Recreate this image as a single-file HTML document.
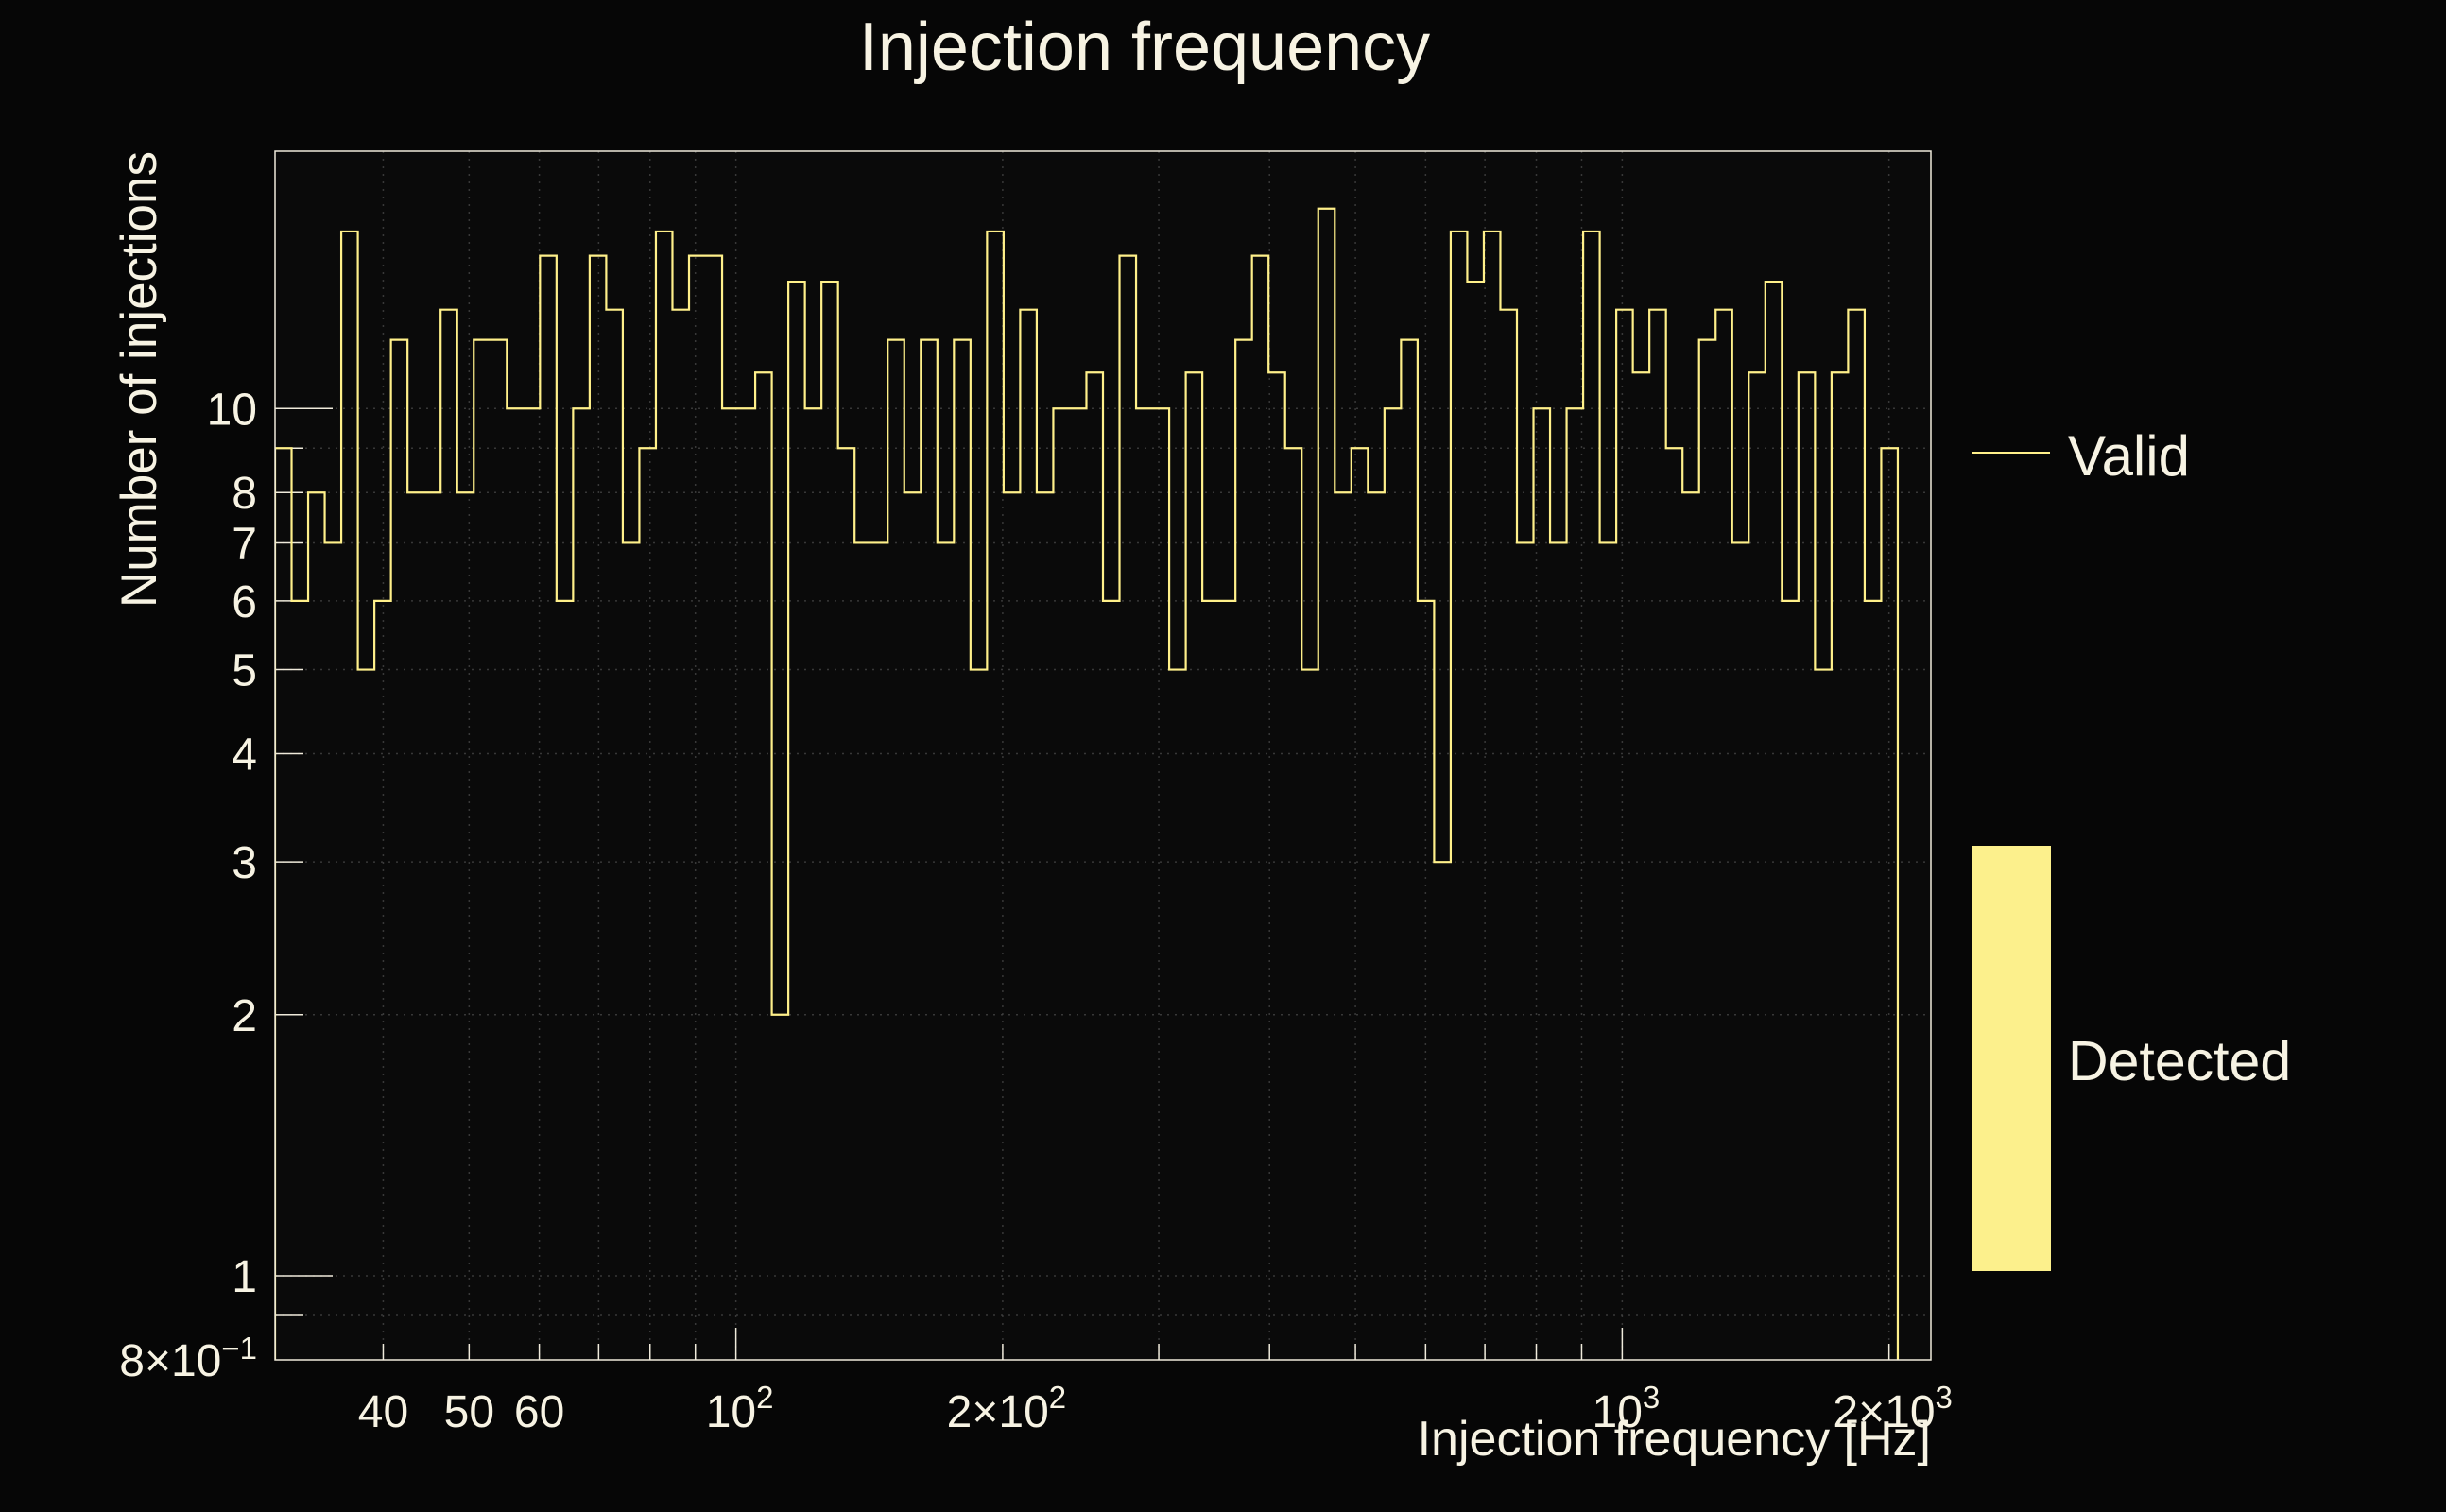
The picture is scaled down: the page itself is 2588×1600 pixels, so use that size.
<!DOCTYPE html>
<html><head><meta charset="utf-8"><style>
html,body{margin:0;padding:0;background:#060606;}
svg{display:block;}
text{font-family:"Liberation Sans",sans-serif;fill:#f7f3e3;}
</style></head><body>
<svg id="chart" width="2588" height="1600" viewBox="0 0 2588 1600" xmlns="http://www.w3.org/2000/svg">
<rect x="0" y="0" width="2588" height="1600" fill="#060606"/>
<rect x="291" y="160" width="1752" height="1279" fill="#0a0a0a"/>
<g id="grid"></g>
<g id="ticks"></g>
<g id="hist"></g>
<rect x="291" y="160" width="1752" height="1279" fill="none" stroke="#efeadb" stroke-width="1.5"/>
<text x="1211" y="74" font-size="72" text-anchor="middle">Injection frequency</text>
<text transform="translate(165,160) rotate(-90)" font-size="53" text-anchor="end">Number of injections</text>
<text x="2043" y="1540" font-size="52" text-anchor="end">Injection frequency [Hz]</text>
<g>
<line x1="2087" y1="479" x2="2169" y2="479" stroke="#fff08a" stroke-width="2"/>
<text x="2188" y="503" font-size="60">Valid</text>
<rect x="2086" y="895" width="84" height="450" fill="#fcf08c"/>
<text x="2188" y="1143" font-size="59">Detected</text>
</g>
</svg>
<script>
const counts = [9,6,8,7,16,5,6,12,8,8,13,8,12,12,10,10,15,6,10,15,
13,7,9,16,13,15,15,10,10,11,2,14,10,14,9,7,7,12,8,12,
7,12,5,16,8,13,8,10,10,11,6,15,10,10,5,11,6,6,12,15,
11,9,5,17,8,9,8,10,12,6,3,16,14,16,13,7,10,7,10,16,
7,13,11,13,9,8,12,13,7,11,14,6,11,5,11,13,6,9,0,0];
const xRange = [30.2, 2230];
const yRange = [0.8, 19.8];
const yMinorTicks = [0.9,2,3,4,5,6,7,8,9];
const yMajorTicks = [1,10];
const yTickLabels = [["10",10],["8",8],["7",7],["6",6],["5",5],["4",4],["3",3],["2",2],["1",1]];
const xMinorTicks = [40,50,60,70,80,90,200,300,400,500,600,700,800,900,2000];
const xMajorTicks = [100,1000];
const xPlainLabels = [["40",40],["50",50],["60",60]];
const xPowLabels = [["","2",100],["2\u00d7","2",200],["","3",1000],["2\u00d7","3",2000]];

const NS="http://www.w3.org/2000/svg";
const L=291,R=2043,T=160,B=1439;
function xs(v){return L+(Math.log10(v)-Math.log10(xRange[0]))/(Math.log10(xRange[1])-Math.log10(xRange[0]))*(R-L);}
function ys(v){return B-(Math.log10(v)-Math.log10(yRange[0]))/(Math.log10(yRange[1])-Math.log10(yRange[0]))*(B-T);}
function mk(tag,attrs,parent){const e=document.createElementNS(NS,tag);for(const k in attrs)e.setAttribute(k,attrs[k]);parent.appendChild(e);return e;}
const grid=document.getElementById('grid'),ticks=document.getElementById('ticks'),hist=document.getElementById('hist'),svg=document.getElementById('chart');

yMinorTicks.concat(yMajorTicks).forEach(v=>{
  const y=ys(v);
  const g=mk('line',{x1:L,x2:R,y1:y,y2:y,stroke:'#444',"stroke-width":1.5,"stroke-dasharray":"2 6","stroke-opacity":0.8},grid);
  
  
  const len=yMajorTicks.includes(v)?61:30;
  const t=mk('line',{x1:L,x2:L+len,y1:y,y2:y,stroke:'#efeadb',"stroke-width":1.5},ticks);
  
  
});
xMinorTicks.concat(xMajorTicks).forEach(v=>{
  const x=xs(v);
  const g=mk('line',{x1:x,x2:x,y1:T,y2:B,stroke:'#444',"stroke-width":1.5,"stroke-dasharray":"2 6","stroke-opacity":0.8},grid);
  
  
  const len=xMajorTicks.includes(v)?34:17;
  const t=mk('line',{x1:x,x2:x,y1:B,y2:B-len,stroke:'#efeadb',"stroke-width":1.5},ticks);
  
  
});
yTickLabels.forEach(([s,v])=>{
  const t=mk('text',{x:272,y:ys(v)+17,"font-size":48,"text-anchor":"end"},svg);
  t.textContent=s;
  
  
});
{
  const t=mk('text',{x:272,y:B+17,"font-size":48,"text-anchor":"end"},svg);
  
  
  t.innerHTML='8\u00d710<tspan dy="-18" font-size="33">\u22121</tspan>';
}
xPlainLabels.forEach(([s,v])=>{
  const t=mk('text',{x:xs(v),y:1510,"font-size":48,"text-anchor":"middle"},svg);
  t.textContent=s;
  
  
});
xPowLabels.forEach(([pre,exp,v])=>{
  const t=mk('text',{x:xs(v)+4,y:1510,"font-size":48,"text-anchor":"middle"},svg);
  
  
  t.innerHTML=pre+'10<tspan dy="-20" font-size="33">'+exp+'</tspan>';
});
const n=counts.length;
const lx0=Math.log10(xRange[0]),lx1=Math.log10(xRange[1]);
function edge(i){return Math.pow(10,lx0+(lx1-lx0)*i/n);}
let d='';
for(let i=0;i<n;i++){
  const v=counts[i];
  const y=v>0?ys(v):B+40;
  const x0=xs(edge(i)),x1=xs(edge(i+1));
  d+=(i===0?'M'+x0+','+B+' L'+x0+','+y:' L'+x0+','+y)+' L'+x1+','+y;
}
const p=mk('path',{d:d,fill:'none',stroke:'#fff08a',"stroke-width":2.2,"clip-path":"url(#clip)"},hist);


const defs=mk('defs',{},svg);
const cp=mk('clipPath',{id:'clip'},defs);
mk('rect',{x:L,y:T,width:R-L,height:B-T},cp);
</script>
</body></html>
